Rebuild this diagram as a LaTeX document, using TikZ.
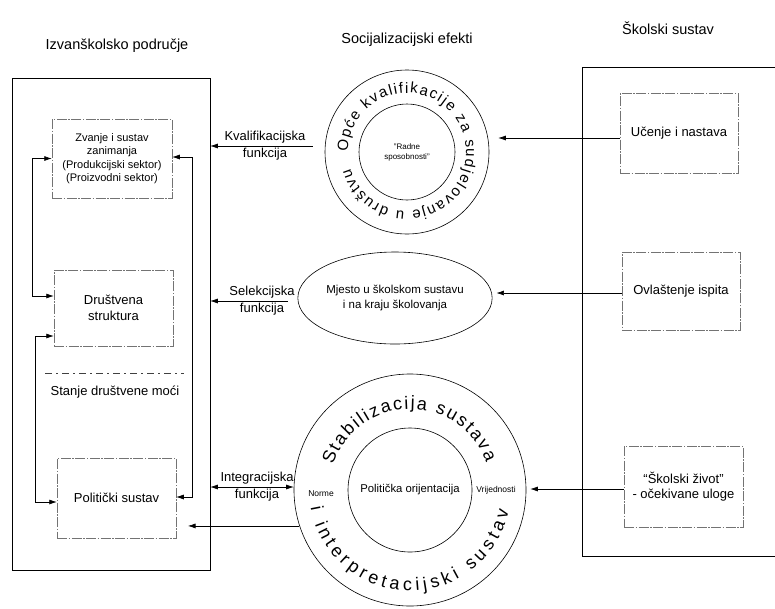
\documentclass[tikz,border=0pt]{standalone}
\usepackage{fontspec}
\setmainfont{Liberation Sans}
\usetikzlibrary{arrows.meta,shapes.geometric,decorations.text}
\tikzset{
  txt_base/.style = {align=center, inner sep=0pt, text centered},
  title_t/.style = {txt_base, font=\fontsize{14.5}{17}\selectfont},
  label_t/.style = {txt_base, font=\fontsize{13}{17}\selectfont},
  box_out/.style = {draw=black, line width=0.6pt, inner sep=0pt},
  box_in/.style = {txt_base, draw=black!55, line width=0.5pt, dash pattern=on 10pt off 1.5pt on 1.5pt off 1.5pt, font=\fontsize{13}{15.5}\selectfont},
  ring/.style = {txt_base, circle, draw=black, line width=0.6pt},
  sep_line/.style = {draw=black!75, line width=0.5pt, dash pattern=on 7pt off 4pt on 2pt off 4pt},
  arr/.style = {-{Latex[length=7.5pt,width=5pt]}, line width=0.6pt},
  dbl/.style = {{Latex[length=7.5pt,width=5pt]}-{Latex[length=7.5pt,width=5pt]}, line width=0.6pt},
}

\begin{document}
\begin{tikzpicture}[x=1pt, y=1pt]
  \useasboundingbox (0,0) rectangle (775,-608);

  \node [title_t] (t_izvan) at (117,-46) {Izvanškolsko područje};
  \node [title_t] (t_soc) at (407,-40) {Socijalizacijski efekti};
  \node [title_t] (t_skol) at (668,-28) {Školski sustav};

  \node [box_out, minimum width=198pt, minimum height=492pt] (izvan) at (111,-324) {};
  \node [box_out, minimum width=215pt, minimum height=489pt, anchor=north west] (skolski) at (582,-67) {};

  \node [box_in, minimum width=120pt, minimum height=79pt, font=\fontsize{11}{13.3}\selectfont] (zvanje) at (112,-158.5) {Zvanje i sustav\\zanimanja\\(Produkcijski sektor)\\(Proizvodni sektor)};
  \node [box_in, minimum width=119pt, minimum height=76pt] (drustvena) at (113.5,-308) {Društvena\\struktura};
  \draw [sep_line] (45,-373) -- (184,-373);
  \node [label_t] (stanje) at (115,-392) {Stanje društvene moći};
  \node [box_in, minimum width=119pt, minimum height=80pt] (politicki) at (116.5,-498) {Politički sustav};

  \node [box_in, minimum width=118pt, minimum height=80pt] (ucenje) at (679,-133) {Učenje i nastava};
  \node [box_in, minimum width=118pt, minimum height=78pt] (ovlastenje) at (681,-291) {Ovlaštenje ispita};
  \node [box_in, minimum width=119pt, minimum height=81pt] (zivot) at (683.5,-486.5) {“Školski život”\\- očekivane uloge};

  \node [ring, minimum size=164pt] (opce) at (407,-152) {};
  \node [ring, minimum size=96pt, font=\fontsize{8}{10}\selectfont] (radne) at (opce) {"Radne\\sposobnosti"};
  \path [decorate, decoration={text along path, text align=fit to path,
      text={|\fontsize{15}{15}\selectfont|Opće kvalifikacije za sudjelovanje u društvu}}]
    ([shift={(180:59)}]opce.center) arc [start angle=180, end angle=-164, radius=59];

  \node [txt_base, ellipse, draw, line width=0.6pt, minimum width=154pt, minimum height=92pt, font=\fontsize{11.5}{15}\selectfont] (mjesto) at (395,-298) {Mjesto u školskom sustavu\\i na kraju školovanja};

  \node [ring, minimum size=232pt] (stab) at (410,-490) {};
  \node [ring, minimum size=124pt, font=\fontsize{11.3}{13}\selectfont] (orijent) at (stab) {Politička orijentacija};
  \node [txt_base, font=\fontsize{8.5}{10}\selectfont] (norme) at (321,-494) {Norme};
  \node [txt_base, font=\fontsize{8.5}{10}\selectfont] (vrijed) at (496,-490) {Vrijednosti};
  \path [decorate, decoration={text along path, text align=fit to path,
      text={|\fontsize{18}{18}\selectfont|Stabilizacija sustava}}]
    ([shift={(162:81)}]stab.center) arc [start angle=162, end angle=20, radius=81];
  \path [decorate, decoration={text along path, text align=fit to path,
      text={|\fontsize{18}{18}\selectfont|i interpretacijski sustav}}]
    ([shift={(190:101)}]stab.center) arc [start angle=190, end angle=348, radius=101];

  \node [label_t] (kv_lab) at (265,-146) {Kvalifikacijska\\funkcija};
  \node [label_t] (sel_lab) at (262,-301) {Selekcijska\\funkcija};
  \node [label_t] (int_lab) at (257,-487) {Integracijska\\funkcija};
  \coordinate (pol_in) at (188,-527);

  \draw [arr, shorten <=12pt] (opce.west |- kv_lab) -- (izvan.east |- kv_lab);
  \draw [arr, shorten <=10pt] (mjesto.west |- sel_lab) -- (izvan.east |- sel_lab);
  \draw [dbl] (izvan.east |- int_lab) -- (stab.west |- int_lab);
  \draw [arr] (stab.198) -- (stab.198 -| pol_in);

  \draw [arr, shorten >=9pt] ([yshift=-5pt]ucenje.west) -- ([yshift=-5pt]ucenje.west -| opce.east);
  \draw [arr, shorten >=4pt] ([yshift=-2pt]ovlastenje.west) -- ([yshift=-2pt]ovlastenje.west -| mjesto.east);
  \draw [arr, shorten >=4pt] ([yshift=-2.5pt]zivot.west) -- ([yshift=-2.5pt]zivot.west -| stab.east);

  \draw [dbl] (zvanje.west) -- ++(-19,0) |- ([yshift=12pt]drustvena.west);
  \draw [dbl] ([yshift=-28pt]drustvena.west) -- ++(-18,0) |- ([yshift=-4pt]politicki.west);
  \draw [dbl] ([yshift=1.5pt]zvanje.east) -- ++(20,0) |- ([yshift=1pt]politicki.east);
\end{tikzpicture}
\end{document}
